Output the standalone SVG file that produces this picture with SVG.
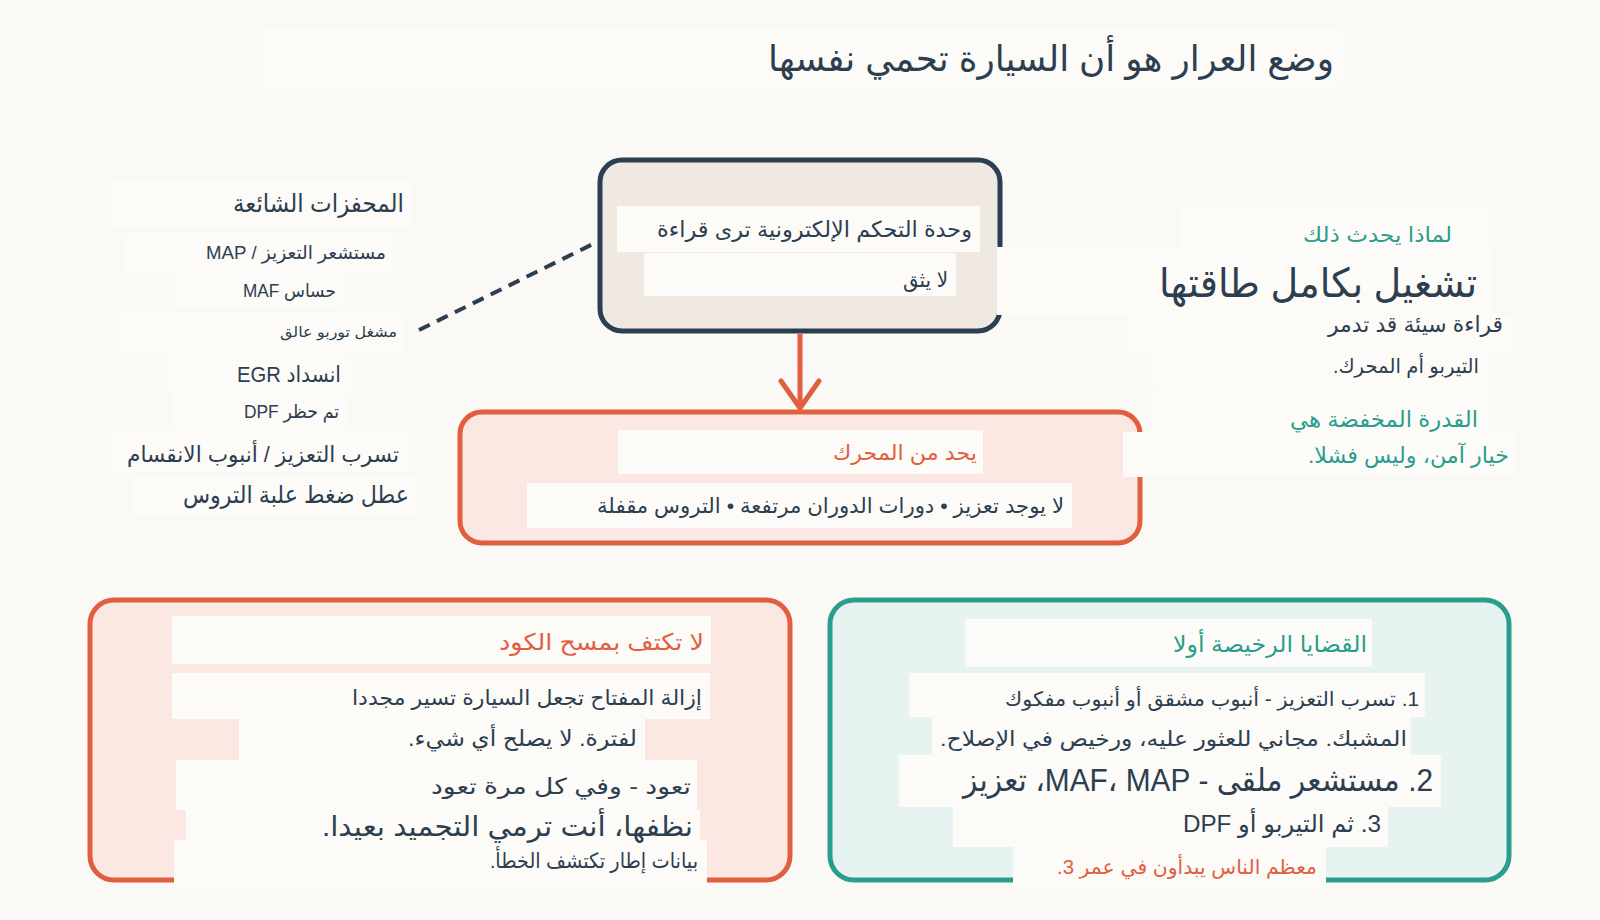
<svg xmlns="http://www.w3.org/2000/svg" width="1600" height="920" viewBox="0 0 1600 920">
<defs>
<style>
text{font-family:"Liberation Sans","DejaVu Sans",sans-serif;direction:rtl;text-anchor:start;fill:#2c3e50}
.tb{fill:#fcfbf8}
.or{fill:#e15f41}
.te{fill:#2a9d8f}
.box-dark{fill:#efe9e2;stroke:#2c3e50;stroke-width:5}
.box-or{fill:#fbe8e2;stroke:#e15f41;stroke-width:5}
.box-te{fill:#e6f3f0;stroke:#2a9d8f;stroke-width:5}
</style>
<marker id="chev" viewBox="-30 -22 34 44" refX="0" refY="0" markerWidth="34" markerHeight="44" markerUnits="userSpaceOnUse" orient="auto">
<path d="M-27,-19 L0,0 L-27,19" fill="none" stroke="#e15f41" stroke-width="5" stroke-linecap="round" stroke-linejoin="round"/>
</marker>
</defs>
<rect width="1600" height="920" fill="#faf9f5"/>

<g id="title">
<rect class="tb" x="263" y="27" width="1080" height="59"/>
<text x="1334" y="71" font-size="36" textLength="566" lengthAdjust="spacingAndGlyphs">وضع العرار هو أن السيارة تحمي نفسها</text>
</g>

<g id="triggers">
<rect class="tb" x="112" y="180" width="300" height="47"/>
<rect class="tb" x="125" y="233" width="268" height="39"/>
<rect class="tb" x="175" y="273" width="168" height="35"/>
<rect class="tb" x="120" y="313" width="285" height="39"/>
<rect class="tb" x="168" y="353" width="182" height="39"/>
<rect class="tb" x="172" y="393" width="175" height="37"/>
<rect class="tb" x="113" y="432" width="295" height="40"/>
<rect class="tb" x="133" y="475" width="284" height="42"/>
<text x="404" y="212" font-size="25" textLength="171" lengthAdjust="spacingAndGlyphs">المحفزات الشائعة</text>
<text x="386" y="259" font-size="19" textLength="180" lengthAdjust="spacingAndGlyphs">مستشعر التعزيز / MAP</text>
<text x="336" y="297" font-size="18" textLength="93" lengthAdjust="spacingAndGlyphs">حساس MAF</text>
<text x="397" y="337" font-size="15" textLength="117" lengthAdjust="spacingAndGlyphs">مشغل توربو عالق</text>
<text x="341" y="382" font-size="22" textLength="104" lengthAdjust="spacingAndGlyphs">انسداد EGR</text>
<text x="339" y="418" font-size="19" textLength="95" lengthAdjust="spacingAndGlyphs">تم حظر DPF</text>
<text x="399" y="462" font-size="22" textLength="272" lengthAdjust="spacingAndGlyphs">تسرب التعزيز / أنبوب الانقسام</text>
<text x="409" y="503" font-size="24" textLength="226" lengthAdjust="spacingAndGlyphs">عطل ضغط علبة التروس</text>
</g>

<g id="ecu">
<rect class="box-dark" x="600" y="160" width="400" height="171" rx="22"/>
<rect class="tb" x="617" y="206" width="363" height="46"/>
<rect class="tb" x="644" y="253" width="312" height="43"/>
<text x="972" y="237" font-size="22" textLength="315" lengthAdjust="spacingAndGlyphs">وحدة التحكم الإلكترونية ترى قراءة</text>
<text x="948" y="287" font-size="21" textLength="45" lengthAdjust="spacingAndGlyphs">لا يثق</text>
</g>

<g id="limp">
<rect class="box-or" x="460" y="412" width="680" height="131" rx="22"/>
<rect class="tb" x="618" y="430" width="365" height="44"/>
<rect class="tb" x="527" y="483" width="545" height="45"/>
<text class="or" x="977" y="460" font-size="21" textLength="144" lengthAdjust="spacingAndGlyphs">يحد من المحرك</text>
<text x="1064" y="513" font-size="21" textLength="467" lengthAdjust="spacingAndGlyphs">لا يوجد تعزيز • دورات الدوران مرتفعة • التروس مقفلة</text>
</g>

<g id="why">
<rect class="tb" x="1180" y="207" width="310" height="40"/>
<rect class="tb" x="997" y="247" width="495" height="68"/>
<rect class="tb" x="1128" y="315" width="384" height="35"/>
<rect class="tb" x="1153" y="350" width="335" height="40"/>
<rect class="tb" x="1150" y="393" width="340" height="39"/>
<rect class="tb" x="1123" y="432" width="392" height="45"/>
<text class="te" x="1452" y="242" font-size="21" textLength="149" lengthAdjust="spacingAndGlyphs">لماذا يحدث ذلك</text>
<text x="1477" y="297" font-size="40" textLength="318" lengthAdjust="spacingAndGlyphs">تشغيل بكامل طاقتها</text>
<text x="1503" y="332" font-size="22" textLength="175" lengthAdjust="spacingAndGlyphs">قراءة سيئة قد تدمر</text>
<text x="1479" y="373" font-size="20" textLength="146" lengthAdjust="spacingAndGlyphs">التيربو أم المحرك.</text>
<text class="te" x="1478" y="427" font-size="22" textLength="188" lengthAdjust="spacingAndGlyphs">القدرة المخفضة هي</text>
<text class="te" x="1509" y="463" font-size="22" textLength="201" lengthAdjust="spacingAndGlyphs">خيار آمن، وليس فشلا.</text>
</g>

<g id="dont-clear">
<rect class="box-or" x="90" y="600" width="700" height="280" rx="24"/>
<rect class="tb" x="172" y="616" width="539" height="48"/>
<rect class="tb" x="172" y="673" width="538" height="46"/>
<rect class="tb" x="239" y="719" width="406" height="41"/>
<rect class="tb" x="176" y="760" width="521" height="50"/>
<rect class="tb" x="186" y="810" width="514" height="30"/>
<rect class="tb" x="174" y="840" width="533" height="46"/>
<text class="or" x="704" y="650" font-size="23" textLength="205" lengthAdjust="spacingAndGlyphs">لا تكتف بمسح الكود</text>
<text x="702" y="705" font-size="21" textLength="350" lengthAdjust="spacingAndGlyphs">إزالة المفتاح تجعل السيارة تسير مجددا</text>
<text x="637" y="746" font-size="22" textLength="229" lengthAdjust="spacingAndGlyphs">لفترة. لا يصلح أي شيء.</text>
<text x="691" y="794" font-size="22" textLength="260" lengthAdjust="spacingAndGlyphs">تعود - وفي كل مرة تعود</text>
<text x="693" y="836" font-size="28" textLength="371" lengthAdjust="spacingAndGlyphs">نظفها، أنت ترمي التجميد بعيدا.</text>
<text x="698" y="868" font-size="21" textLength="208" lengthAdjust="spacingAndGlyphs">بيانات إطار تكتشف الخطأ.</text>
</g>

<g id="cheap-first">
<rect class="box-te" x="830" y="600" width="679" height="280" rx="24"/>
<rect class="tb" x="965" y="619" width="407" height="48"/>
<rect class="tb" x="909" y="673" width="516" height="44"/>
<rect class="tb" x="932" y="717" width="479" height="38"/>
<rect class="tb" x="899" y="755" width="542" height="52"/>
<rect class="tb" x="953" y="807" width="435" height="40"/>
<rect class="tb" x="1013" y="847" width="313" height="39"/>
<text class="te" x="1367" y="652" font-size="23" textLength="194" lengthAdjust="spacingAndGlyphs">القضايا الرخيصة أولا</text>
<text x="1419" y="706" font-size="20" textLength="414" lengthAdjust="spacingAndGlyphs">1. تسرب التعزيز - أنبوب مشقق أو أنبوب مفكوك</text>
<text x="1407" y="746" font-size="21" textLength="467" lengthAdjust="spacingAndGlyphs">المشبك. مجاني للعثور عليه، ورخيص في الإصلاح.</text>
<text x="1433" y="791" font-size="32" textLength="470" lengthAdjust="spacingAndGlyphs">2. مستشعر ملقى - MAF، MAP، تعزيز</text>
<text x="1381" y="832" font-size="24" textLength="198" lengthAdjust="spacingAndGlyphs">3. ثم التيربو أو DPF</text>
<text class="or" x="1317" y="874" font-size="20" textLength="260" lengthAdjust="spacingAndGlyphs">معظم الناس يبدأون في عمر 3.</text>
</g>

<g id="connectors">
<line x1="419" y1="330" x2="597" y2="242" stroke="#2c3e50" stroke-width="4" stroke-dasharray="12 8"/>
<line x1="800" y1="334" x2="800" y2="408" stroke="#e15f41" stroke-width="5" marker-end="url(#chev)"/>
</g>
</svg>
